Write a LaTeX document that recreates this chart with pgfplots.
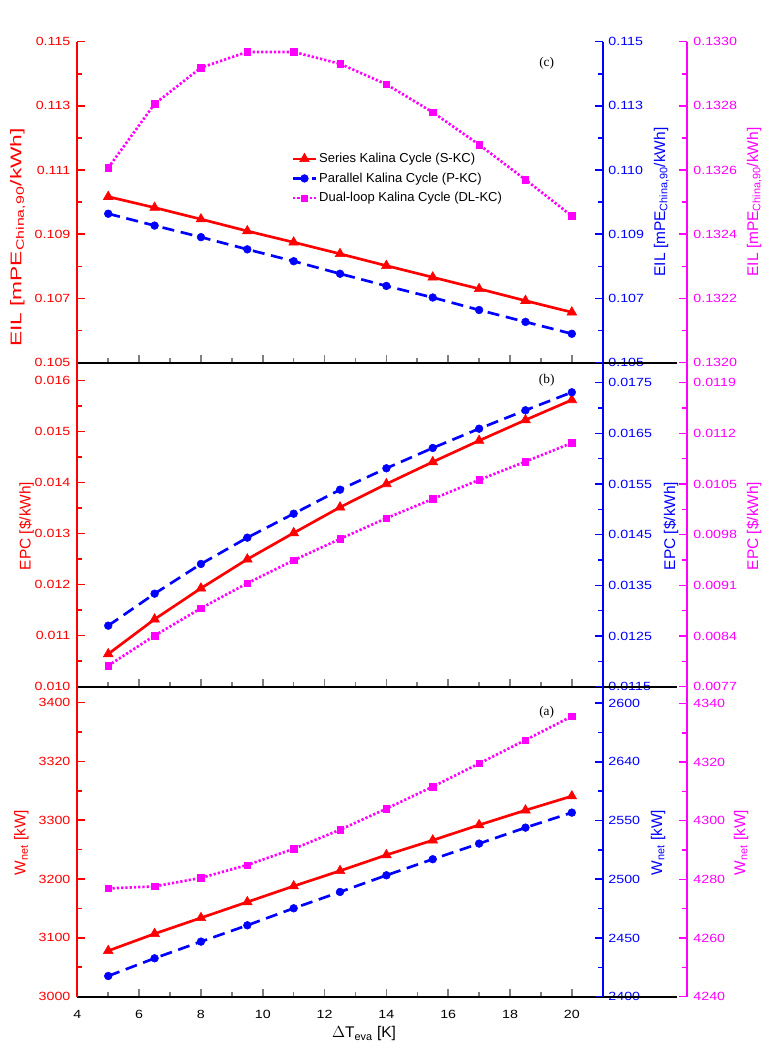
\documentclass[border=0pt]{standalone}
\usepackage{pgfplots}
\usepackage{pgfplotstable}
\pgfplotsset{compat=1.18}
\usepackage{fontspec}
\setmainfont{Liberation Sans}
\newfontfamily\tickfont[FakeStretch=1.2]{Liberation Sans}
\newfontfamily\letterfont{Liberation Serif}

\definecolor{cred}{RGB}{255,0,0}
\definecolor{cblue}{RGB}{0,0,255}
\definecolor{cmag}{RGB}{255,0,255}

% columns: dT, S-KC, P-KC, DL-KC
\pgfplotstableread{
x    s        p        d
5    0.11017  0.10964  0.132607
6.5  0.10983  0.10927  0.132806
8    0.10947  0.10891  0.132919
9.5  0.10910  0.10853  0.132968
11   0.10875  0.10816  0.132968
12.5 0.10839  0.10777  0.132931
14   0.10802  0.10739  0.132867
15.5 0.10766  0.10703  0.132780
17   0.10730  0.10664  0.132679
18.5 0.10693  0.10627  0.132570
20   0.10657  0.10590  0.132457
}\eiltable

\pgfplotstableread{
x    s        p        d
5    0.010641 0.012704 0.007990
6.5  0.011322 0.013335 0.008405
8    0.011929 0.013922 0.008783
9.5  0.012498 0.014441 0.009129
11   0.013014 0.014914 0.009446
12.5 0.013518 0.015388 0.009741
14   0.013975 0.015810 0.010027
15.5 0.014406 0.016211 0.010293
17   0.014824 0.016592 0.010556
18.5 0.015229 0.016955 0.010809
20   0.015622 0.017310 0.011067
}\epctable

\pgfplotstableread{
x    s     p       d
5    3078  2417.6  4276.9
6.5  3107  2432.7  4277.6
8    3134  2446.9  4280.5
9.5  3161  2460.8  4284.9
11   3188  2475.3  4290.4
12.5 3214  2489.2  4296.9
14   3241  2503.4  4304.1
15.5 3266  2517.1  4311.6
17   3292  2530.4  4319.5
18.5 3317  2544.0  4327.5
20   3341  2556.8  4335.6
}\wnettable

\pgfplotsset{
  panel/.style={scale only axis, width=394.05pt, xmin=4, xmax=21, clip=false,
    scaled y ticks=false, scaled x ticks=false,
    tick align=inside, major tick length=6pt, minor tick length=3.2pt,
    axis line style={line width=1.5pt},
    every tick/.append style={line width=1.2pt},
    tick label style={font=\tickfont\fontsize{8.9}{10}\selectfont},
    minor y tick num=1},
  leftaxis/.style={panel, axis y line*=left, axis x line*=bottom,
    x axis line style={black}, y axis line style={cred},
    xtick={4,6,...,20}, minor xtick={5,7,...,19}, xticklabels={},
    every y tick/.append style={cred},
    yticklabel style={cred, xshift=-1.7pt}},
  rightaxis/.style={panel, axis y line*=right, axis x line=none,
    y axis line style={cblue}, every y tick/.append style={cblue},
    yticklabel style={cblue, xshift=0.75pt}},
  magdata/.style={panel, hide axis},
  magaxis/.style={panel, axis y line*=right, axis x line=none,
    y axis line style={cmag}, every y tick/.append style={cmag},
    yticklabel style={cmag, xshift=1.5pt}},
  skc/.style={cred, solid, line width=2pt, mark=triangle*, mark size=4.2pt,
    mark options={solid, line width=0.4pt}},
  pkc/.style={cblue, line width=2pt, dash pattern=on 9pt off 5pt, mark=*,
    mark size=2.9pt, mark options={solid, line width=0.4pt}},
  dlkc/.style={cmag, line width=2pt, dash pattern=on 1.7pt off 1.5pt,
    mark=square*, mark size=2.4pt, mark options={solid, line width=0.4pt}},
}

\newcommand\labfont{\fontsize{11.6}{13}\selectfont}

\begin{document}
\begin{tikzpicture}

% ---------------- (c) EIL ----------------
\begin{axis}[leftaxis, at={(58pt,515.5pt)}, anchor=south west, height=240.75pt,
  ymin=0.105, ymax=0.115,
  ytick={0.105,0.107,0.109,0.111,0.113,0.115},
  yticklabels={0.105,0.107,0.109,0.111,0.113,0.115},
  legend style={at={(0.40,0.668)}, anchor=north west, draw=none, fill=none,
    font=\fontsize{9.75}{11}\selectfont, nodes={inner sep=1.5pt}, row sep=3.1pt},
  legend cell align=left]
\addplot[skc] table[x=x, y=s] {\eiltable};
\addlegendentry{Series Kalina Cycle (S-KC)}
\addlegendimage{pkc}
\addlegendentry{Parallel Kalina Cycle (P-KC)}
\addlegendimage{dlkc}
\addlegendentry{Dual-loop Kalina Cycle (DL-KC)}
\end{axis}
\begin{axis}[rightaxis, at={(58pt,515.5pt)}, anchor=south west, height=240.75pt,
  ymin=0.105, ymax=0.115,
  ytick={0.105,0.107,0.109,0.111,0.113,0.115},
  yticklabels={0.105,0.107,0.109,0.110,0.113,0.115}]
\addplot[pkc] table[x=x, y=p] {\eiltable};
\end{axis}
\begin{axis}[magdata, at={(58pt,515.5pt)}, anchor=south west, height=240.75pt,
  ymin=0.1320, ymax=0.1330]
\addplot[dlkc] table[x=x, y=d] {\eiltable};
\end{axis}
\begin{axis}[magaxis, at={(121pt,515.5pt)}, anchor=south west, height=240.75pt,
  ymin=0.1320, ymax=0.1330,
  ytick={0.1320,0.1322,0.1324,0.1326,0.1328,0.1330},
  yticklabels={0.1320,0.1322,0.1324,0.1326,0.1328,0.1330}]
\end{axis}

% ---------------- (b) EPC ----------------
\begin{axis}[leftaxis, at={(58pt,272.5pt)}, anchor=south west, height=243pt,
  ymin=0.010, ymax=0.016353,
  ytick={0.010,0.011,0.012,0.013,0.014,0.015,0.016},
  yticklabels={0.010,0.011,0.012,0.013,0.014,0.015,0.016}]
\addplot[skc] table[x=x, y=s] {\epctable};
\end{axis}
\begin{axis}[rightaxis, at={(58pt,272.5pt)}, anchor=south west, height=243pt,
  ymin=0.0115, ymax=0.017895,
  ytick={0.0115,0.0125,0.0135,0.0145,0.0155,0.0165,0.0175},
  yticklabels={0.0115,0.0125,0.0135,0.0145,0.0155,0.0165,0.0175}]
\addplot[pkc] table[x=x, y=p] {\epctable};
\end{axis}
\begin{axis}[magdata, at={(58pt,272.5pt)}, anchor=south west, height=243pt,
  ymin=0.0077, ymax=0.012176]
\addplot[dlkc] table[x=x, y=d] {\epctable};
\end{axis}
\begin{axis}[magaxis, at={(121pt,272.5pt)}, anchor=south west, height=243pt,
  ymin=0.0077, ymax=0.012176,
  ytick={0.0077,0.0084,0.0091,0.0098,0.0105,0.0112,0.0119},
  yticklabels={0.0077,0.0084,0.0091,0.0098,0.0105,0.0112,0.0119}]
\end{axis}

% ---------------- (a) W_net ----------------
\begin{axis}[leftaxis, at={(58pt,40pt)}, anchor=south west, height=232.5pt,
  ymin=3000, ymax=3527.2,
  ytick={3000,3100,3200,3300,3400,3500},
  yticklabels={3000,3100,3200,3300,3320,3400},
  xticklabels={4,6,8,10,12,14,16,18,20},
  xticklabel style={black, yshift=-6.5pt}]
\addplot[skc] table[x=x, y=s] {\wnettable};
\end{axis}
\begin{axis}[rightaxis, at={(58pt,40pt)}, anchor=south west, height=232.5pt,
  ymin=2400, ymax=2664.1,
  ytick={2400,2450,2500,2550,2600,2650},
  yticklabels={2400,2450,2500,2550,2640,2600}]
\addplot[pkc] table[x=x, y=p] {\wnettable};
\end{axis}
\begin{axis}[magdata, at={(58pt,40pt)}, anchor=south west, height=232.5pt,
  ymin=4240, ymax=4345.7]
\addplot[dlkc] table[x=x, y=d] {\wnettable};
\end{axis}
\begin{axis}[magaxis, at={(121pt,40pt)}, anchor=south west, height=232.5pt,
  ymin=4240, ymax=4345.7,
  ytick={4240,4260,4280,4300,4320,4340},
  yticklabels={4240,4260,4280,4300,4320,4340}]
\end{axis}

% black baselines running on past the blue axis
\foreach \yy in {515.5,272.5,40} {
  \draw[black, line width=1.5pt] (452pt,\yy pt) -- (507.75pt,\yy pt);
}

% panel letters
\node[font=\letterfont\fontsize{10}{12}\selectfont] at (410pt,740pt) {(c)};
\node[font=\letterfont\fontsize{10}{12}\selectfont] at (410pt,502pt) {(b)};
\node[font=\letterfont\fontsize{10}{12}\selectfont] at (410pt,253.3pt) {(a)};

% axis titles
\node[cred, rotate=90, anchor=base, font=\labfont] at (16.1pt,609.4pt)
  {\scalebox{1.47}[1]{EIL [mPE\textsubscript{China,90}/kWh]}};
\node[cblue, rotate=90, anchor=base, font=\labfont] at (498.75pt,636pt)
  {EIL [mPE\textsubscript{China,90}/kWh]};
\node[cmag, rotate=90, anchor=base, font=\labfont] at (568.5pt,636pt)
  {EIL [mPE\textsubscript{China,90}/kWh]};

\node[cred, rotate=90, anchor=base, font=\labfont] at (23pt,393pt) {EPC [\$/kWh]};
\node[cblue, rotate=90, anchor=base, font=\labfont] at (506.25pt,393pt) {EPC [\$/kWh]};
\node[cmag, rotate=90, anchor=base, font=\labfont] at (568.5pt,393pt) {EPC [\$/kWh]};

\node[cred, rotate=90, anchor=base, font=\labfont] at (19.1pt,155.6pt) {W\textsubscript{net} [kW]};
\node[cblue, rotate=90, anchor=base, font=\labfont] at (496.5pt,155.6pt) {W\textsubscript{net} [kW]};
\node[cmag, rotate=90, anchor=base, font=\labfont] at (558.75pt,155.6pt) {W\textsubscript{net} [kW]};

\node[anchor=base, font=\labfont] at (273pt,9.2pt) {$\Delta$T\textsubscript{eva} [K]};

\pgfresetboundingbox
\path[use as bounding box] (0pt,0pt) rectangle (579pt,787.5pt);
\end{tikzpicture}
\end{document}
